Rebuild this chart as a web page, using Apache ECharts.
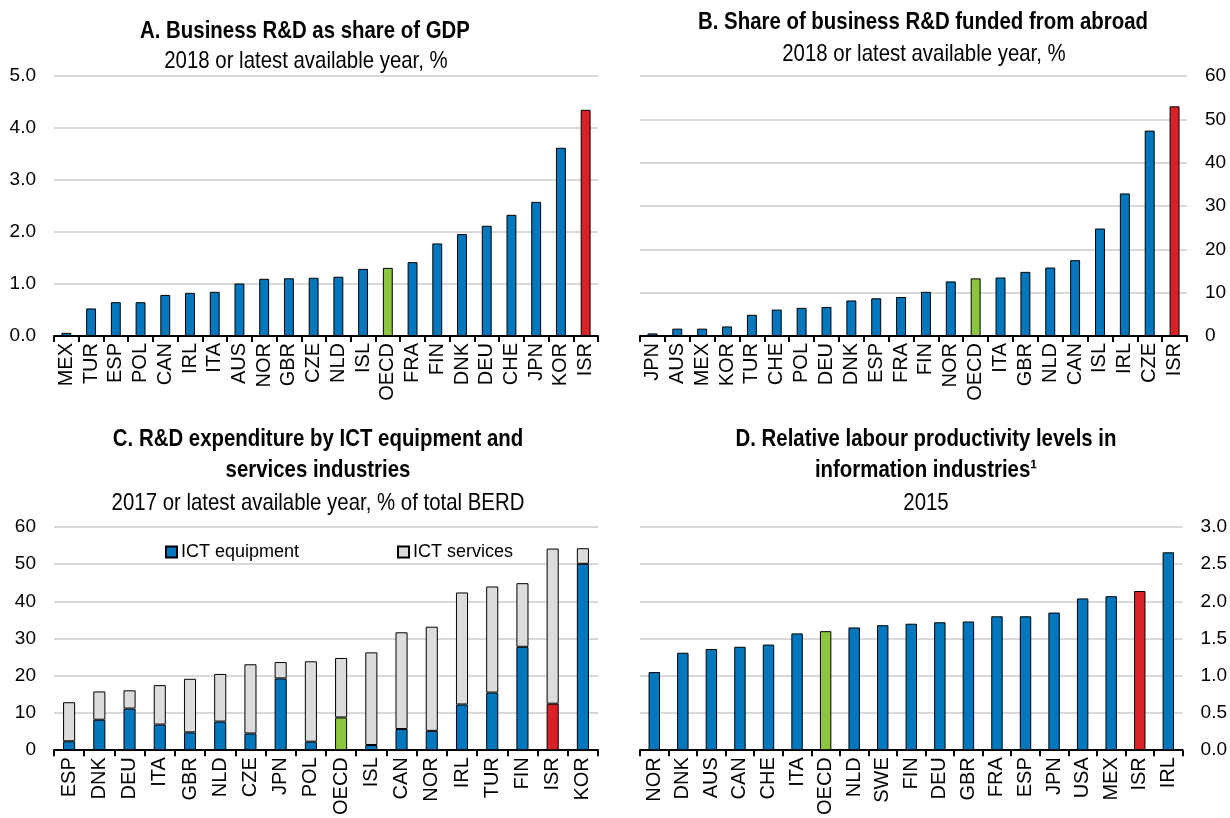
<!DOCTYPE html>
<html>
<head>
<meta charset="utf-8">
<script src="https://cdn.jsdelivr.net/npm/echarts@6/dist/echarts.min.js"></script>
<style>
  html, body { margin: 0; padding: 0; background: #fff; }
  #chart { width: 1230px; height: 818px; }
</style>
</head>
<body>
<div id="chart"></div>
<script>
// Panel A: business R&D as share of GDP
const catsA = ['MEX','TUR','ESP','POL','CAN','IRL','ITA','AUS','NOR','GBR','CZE','NLD','ISL','OECD','FRA','FIN','DNK','DEU','CHE','JPN','KOR','ISR'];
const valsA = [0.06,0.53,0.65,0.65,0.79,0.83,0.85,1.01,1.10,1.11,1.12,1.14,1.29,1.31,1.42,1.78,1.96,2.12,2.33,2.58,3.62,4.35];

// Panel B: share of business R&D funded from abroad
const catsB = ['JPN','AUS','MEX','KOR','TUR','CHE','POL','DEU','DNK','ESP','FRA','FIN','NOR','OECD','ITA','GBR','NLD','CAN','ISL','IRL','CZE','ISR'];
const valsB = [0.6,1.7,1.7,2.2,4.9,6.1,6.5,6.7,8.2,8.7,9.0,10.2,12.6,13.3,13.5,14.8,15.8,17.5,24.8,32.9,47.4,53.0];

// Panel C: R&D expenditure by ICT equipment and services industries
const catsC = ['ESP','DNK','DEU','ITA','GBR','NLD','CZE','JPN','POL','OECD','ISL','CAN','NOR','IRL','TUR','FIN','ISR','KOR'];
const ictEquipment = [2.4,8.2,11.2,6.9,4.8,7.7,4.5,19.3,2.3,8.8,1.4,5.7,5.2,12.3,15.5,27.8,12.5,50.1];
const ictServices = [10.5,7.6,4.9,10.6,14.4,12.8,18.6,4.4,21.6,16.0,24.9,26.0,28.0,30.1,28.5,17.1,41.7,4.2];

// Panel D: relative labour productivity levels in information industries
const catsD = ['NOR','DNK','AUS','CAN','CHE','ITA','OECD','NLD','SWE','FIN','DEU','GBR','FRA','ESP','JPN','USA','MEX','ISR','IRL'];
const valsD = [1.05,1.31,1.36,1.39,1.42,1.57,1.60,1.65,1.68,1.70,1.72,1.73,1.80,1.80,1.85,2.04,2.07,2.14,2.66];

const FONT = "'Liberation Sans', Arial, sans-serif";
const BLUE = '#0277BD';
const RED = '#DA2128';
const GREEN = '#8CC63F';
const GREY = '#DCDCDC';

function barColor(cat) {
  if (cat === 'ISR') return RED;
  if (cat === 'OECD') return GREEN;
  return BLUE;
}

function coloured(cats, vals) {
  return vals.map((v, i) => ({ value: v, itemStyle: { color: barColor(cats[i]) } }));
}

const grids = [
  { left: 54, right: 632, top: 76, bottom: 482 },
  { left: 640, right: 43, top: 76, bottom: 482 },
  { left: 54, right: 632, top: 527, bottom: 59 },
  { left: 640, right: 43, top: 527, bottom: 59 }
];

function xAxis(idx, cats) {
  return {
    type: 'category', gridIndex: idx, data: cats,
    axisLine: { lineStyle: { color: '#000', width: 2 } },
    axisTick: { show: true, length: 6, lineStyle: { color: '#000', width: 2 } },
    axisLabel: { rotate: 90, margin: 7, color: '#000', fontFamily: FONT, fontSize: 20, interval: 0 }
  };
}

function yAxis(idx, pos, max, interval, digits) {
  return {
    type: 'value', gridIndex: idx, position: pos, min: 0, max: max, interval: interval,
    axisLine: { show: false }, axisTick: { show: false },
    splitLine: { lineStyle: { color: '#D9D9D9', width: 2 } },
    axisLabel: {
      margin: 18, color: '#000', fontFamily: FONT, fontSize: 19,
      formatter: v => v.toFixed(digits)
    }
  };
}

const barStyle = { borderColor: '#000', borderWidth: 1 };

// Panel headings: condensed horizontally around their centre point
function titleText(x, y, text, bold) {
  return {
    type: 'text', x: x, y: y, scaleX: 0.85,
    style: {
      text: text, fill: '#000', font: (bold ? 'bold ' : '') + '24px ' + FONT,
      textAlign: 'center', textVerticalAlign: 'middle'
    }
  };
}

const legendBase = {
  top: 538, itemWidth: 11, itemHeight: 11, itemGap: 4, icon: 'rect',
  textStyle: { color: '#000', fontFamily: FONT, fontSize: 18, padding: [0, 0, 0, -1] }
};

const option = {
  animation: false,
  backgroundColor: '#fff',
  grid: grids,
  xAxis: [xAxis(0, catsA), xAxis(1, catsB), xAxis(2, catsC), xAxis(3, catsD)],
  yAxis: [
    yAxis(0, 'left', 5, 1, 1),
    yAxis(1, 'right', 60, 10, 0),
    yAxis(2, 'left', 60, 10, 0),
    yAxis(3, 'right', 3, 0.5, 1)
  ],
  legend: [
    Object.assign({ data: ['ICT equipment'], left: 160 }, legendBase),
    Object.assign({ data: ['ICT services'], left: 392 }, legendBase)
  ],
  graphic: [
    titleText(305, 31, 'A. Business R&D as share of GDP', true),
    titleText(306, 61, '2018 or latest available year, %', false),
    titleText(923, 22, 'B. Share of business R&D funded from abroad', true),
    titleText(924, 54, '2018 or latest available year, %', false),
    titleText(318, 439, 'C. R&D expenditure by ICT equipment and', true),
    titleText(318, 470, 'services industries', true),
    titleText(318, 503, '2017 or latest available year, % of total BERD', false),
    titleText(926, 439, 'D. Relative labour productivity levels in', true),
    titleText(926, 470, 'information industries\u00B9', true),
    titleText(926, 503, '2015', false)
  ],
  series: [
    {
      type: 'bar', xAxisIndex: 0, yAxisIndex: 0, barWidth: '40%',
      data: coloured(catsA, valsA), itemStyle: barStyle
    },
    {
      type: 'bar', xAxisIndex: 1, yAxisIndex: 1, barWidth: '40%',
      data: coloured(catsB, valsB), itemStyle: barStyle
    },
    {
      name: 'ICT equipment', type: 'bar', stack: 'ict', xAxisIndex: 2, yAxisIndex: 2, barWidth: '40%',
      data: coloured(catsC, ictEquipment), itemStyle: Object.assign({ color: BLUE }, barStyle)
    },
    {
      name: 'ICT services', type: 'bar', stack: 'ict', xAxisIndex: 2, yAxisIndex: 2, barWidth: '40%',
      data: ictServices, itemStyle: Object.assign({ color: GREY }, barStyle)
    },
    {
      type: 'bar', xAxisIndex: 3, yAxisIndex: 3, barWidth: '40%',
      data: coloured(catsD, valsD), itemStyle: barStyle
    }
  ]
};

const chart = echarts.init(document.getElementById('chart'), null, { renderer: 'canvas' });
chart.setOption(option);
</script>
</body>
</html>
